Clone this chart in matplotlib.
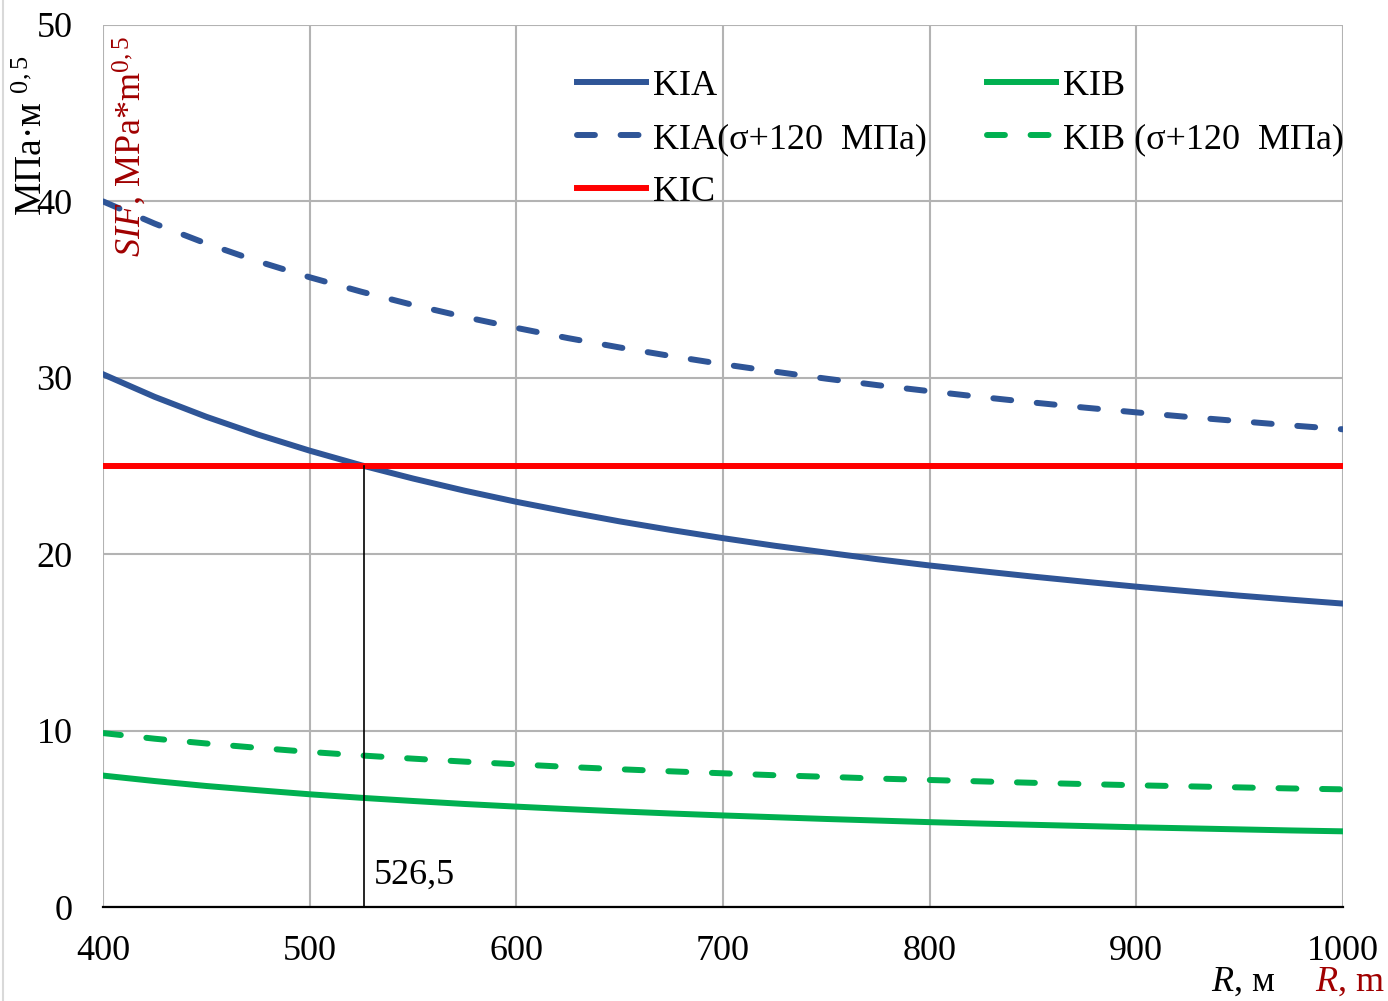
import matplotlib
matplotlib.use('Agg')
import matplotlib.pyplot as plt
from matplotlib.lines import Line2D

plt.rcParams['font.family'] = ['Liberation Serif', 'DejaVu Serif']
plt.rcParams['mathtext.fontset'] = 'custom'
plt.rcParams['mathtext.rm'] = 'Liberation Serif'
plt.rcParams['mathtext.it'] = 'Liberation Serif:italic'

# radius R, m
r_values = [400, 425, 450, 475, 500, 525, 550, 575, 600, 625, 650, 675, 700,
            725, 750, 775, 800, 825, 850, 875, 900, 925, 950, 975, 1000]

# stress intensity factors, MPa*m^0.5
kia = [30.2, 28.92, 27.79, 26.78, 25.87, 25.04, 24.29, 23.6, 22.97, 22.4,
       21.86, 21.37, 20.91, 20.48, 20.09, 19.71, 19.36, 19.04, 18.73, 18.44,
       18.16, 17.9, 17.65, 17.42, 17.2]
kia_120 = [40.0, 38.74, 37.61, 36.6, 35.7, 34.88, 34.13, 33.45, 32.83, 32.25,
           31.72, 31.23, 30.77, 30.35, 29.95, 29.58, 29.24, 28.91, 28.6, 28.31,
           28.04, 27.78, 27.54, 27.3, 27.08]
kib = [7.45, 7.14, 6.86, 6.62, 6.39, 6.19, 6.01, 5.84, 5.69, 5.55, 5.42, 5.3,
       5.19, 5.09, 4.99, 4.9, 4.81, 4.73, 4.66, 4.59, 4.52, 4.46, 4.4, 4.34, 4.29]
kib_120 = [9.86, 9.54, 9.27, 9.02, 8.79, 8.59, 8.41, 8.24, 8.09, 7.94, 7.81,
           7.69, 7.58, 7.47, 7.38, 7.28, 7.2, 7.12, 7.04, 6.97, 6.9, 6.84, 6.78,
           6.72, 6.67]
kic_value = 25
r_cross = 526.5

blue = '#2F5597'
green = '#00B050'
red = '#FF0000'
dark_red = '#A00000'
fs = 26

fig = plt.figure(figsize=(13.88, 10.01), dpi=100)
ax = fig.add_axes([103 / 1388, 1 - 907 / 1001, 1240 / 1388, 882 / 1001])

lw = 4.3
dash = (3.0, 4.3)
l1, = ax.plot(r_values, kia, color=blue, lw=lw, label='KIA')
l2, = ax.plot(r_values, kia_120, color=blue, lw=lw, dashes=dash,
              dash_capstyle='round', label='KIA(σ+120  МПа)')
l3 = ax.axhline(kic_value, color=red, lw=lw, label='KIC')
l4, = ax.plot(r_values, kib, color=green, lw=lw, label='KIB')
l5, = ax.plot(r_values, kib_120, color=green, lw=lw, dashes=dash,
              dash_capstyle='round', label='KIB (σ+120  МПа)')

# crossing of KIA with KIC
ax.plot([r_cross, r_cross], [0, kic_value], color='black', lw=1.2)
ax.text(r_cross + 4.5, 1.8, '526,5', fontsize=fs, va='center', ha='left')

ax.set_xlim(400, 1000)
ax.set_ylim(0, 50)
ax.set_xticks(range(400, 1001, 100))
ax.set_yticks(range(0, 51, 10))
ax.grid(True, color='#B3B3B3', lw=1.5)
ax.set_axisbelow(True)
for s in ['top', 'right', 'left']:
    ax.spines[s].set_visible(False)
ax.spines['bottom'].set_color('black')
ax.spines['bottom'].set_linewidth(1.6)
ax.tick_params(axis='both', length=0, labelsize=fs)
ax.tick_params(axis='y', pad=22)
ax.tick_params(axis='x', pad=20)

leg = ax.legend(handles=[l1, l2, l3, l4, l5], ncol=2, frameon=False,
                loc='upper left', bbox_to_anchor=(0.368, 0.97), borderpad=0,
                fontsize=fs, handlelength=1.9, handletextpad=0.2,
                labelspacing=0.55, columnspacing=1.67)

# axis titles
fig.text(33 / 1388, 1 - 136 / 1001, 'МПа·м $^{0,5}$', rotation=90,
         fontsize=fs + 1, ha='center', va='center')
fig.text(130 / 1388, 1 - 146 / 1001, r'$\mathit{SIF}$, MPa*m$^{0,5}$',
         rotation=90, fontsize=fs, ha='center', va='center', color=dark_red)
fig.text(1243 / 1388, 1 - 982 / 1001, r'$\mathit{R}$, м', fontsize=fs,
         ha='center', va='center')
fig.text(1350 / 1388, 1 - 982 / 1001, r'$\mathit{R}$, m', fontsize=fs,
         ha='center', va='center', color=dark_red)

# thin frame line on the left edge
fig.add_artist(Line2D([3 / 1388, 3 / 1388], [0, 1], color='#D9D9D9', lw=1.5))

fig.savefig('out.png', dpi=100)
